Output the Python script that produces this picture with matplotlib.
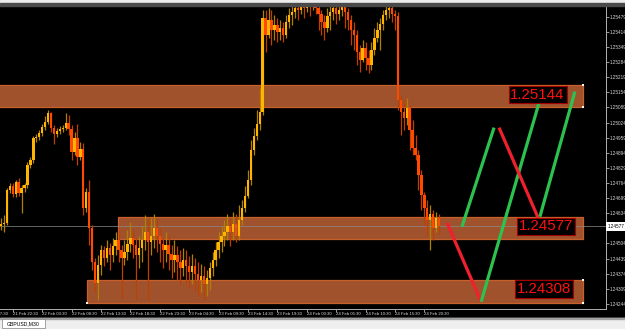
import matplotlib
matplotlib.use("Agg")
import matplotlib.pyplot as plt
from matplotlib.patches import Rectangle
import numpy as np

plt.rcParams['font.family'] = ['Liberation Sans', 'DejaVu Sans']

# GBPUSD M30 candles, first bar = 21 Feb 20:30
first_open = 1.24579
closes = [1.24588, 1.24592, 1.24734, 1.24751, 1.24717, 1.24768, 1.24721, 1.24743, 1.24756, 1.24842,
          1.24863, 1.24958, 1.24962, 1.24979, 1.25005, 1.25026, 1.25065, 1.25001, 1.24975, 1.24988,
          1.24996, 1.25001, 1.25022, 1.24996, 1.24897, 1.24958, 1.24876, 1.24910, 1.24657, 1.24725,
          1.24571, 1.24424, 1.24334, 1.24412, 1.24476, 1.24442, 1.24485, 1.24455, 1.24493, 1.24519,
          1.24476, 1.24442, 1.24467, 1.24502, 1.24528, 1.24498, 1.24455, 1.24485, 1.24519, 1.24553,
          1.24510, 1.24536, 1.24571, 1.24536, 1.24502, 1.24476, 1.24498, 1.24459, 1.24433, 1.24455,
          1.24424, 1.24399, 1.24433, 1.24407, 1.24381, 1.24407, 1.24373, 1.24347, 1.24364, 1.24330,
          1.24356, 1.24399, 1.24433, 1.24476, 1.24510, 1.24536, 1.24553, 1.24579, 1.24553, 1.24588,
          1.24536, 1.24605, 1.24657, 1.24708, 1.24777, 1.24906, 1.24966, 1.25018, 1.25069, 1.25474,
          1.25400, 1.25465, 1.25422, 1.25444, 1.25413, 1.25431, 1.25400, 1.25456, 1.25487, 1.25499,
          1.25517, 1.25508, 1.25525, 1.25517, 1.25534, 1.25525, 1.25530, 1.25517, 1.25491, 1.25456,
          1.25431, 1.25482, 1.25499, 1.25517, 1.25491, 1.25508, 1.25525, 1.25499, 1.25465, 1.25422,
          1.25400, 1.25327, 1.25293, 1.25345, 1.25302, 1.25272, 1.25336, 1.25388, 1.25422, 1.25448,
          1.25487, 1.25508, 1.25517, 1.25491, 1.25482, 1.25121, 1.25069, 1.25044, 1.25087, 1.24992,
          1.24915, 1.24884, 1.24799, 1.24713, 1.24657, 1.24605, 1.24631, 1.24571, 1.24614, 1.24577]
highs = [1.24614, 1.24627, 1.24743, 1.24764, 1.24764, 1.24777, 1.24786, 1.24756, 1.24764, 1.24854,
         1.24876, 1.24966, 1.24975, 1.24992, 1.25018, 1.25052, 1.25078, 1.25069, 1.25014, 1.25001,
         1.25009, 1.25014, 1.25065, 1.25057, 1.25014, 1.24983, 1.25018, 1.24940, 1.24936, 1.24743,
         1.24777, 1.24584, 1.24442, 1.24455, 1.24498, 1.24493, 1.24519, 1.24506, 1.24528, 1.24553,
         1.24571, 1.24498, 1.24519, 1.24562, 1.24596, 1.24562, 1.24528, 1.24536, 1.24579, 1.24627,
         1.24605, 1.24614, 1.24631, 1.24605, 1.24571, 1.24528, 1.24553, 1.24536, 1.24498, 1.24519,
         1.24493, 1.24476, 1.24485, 1.24476, 1.24450, 1.24459, 1.24442, 1.24424, 1.24416, 1.24407,
         1.24390, 1.24424, 1.24467, 1.24510, 1.24553, 1.24579, 1.24605, 1.24631, 1.24614, 1.24639,
         1.24631, 1.24670, 1.24691, 1.24751, 1.24820, 1.24949, 1.25001, 1.25078, 1.25173, 1.25508,
         1.25508, 1.25517, 1.25508, 1.25487, 1.25474, 1.25465, 1.25456, 1.25487, 1.25517, 1.25525,
         1.25525, 1.25534, 1.25542, 1.25551, 1.25551, 1.25560, 1.25570, 1.25555, 1.25534, 1.25508,
         1.25487, 1.25517, 1.25530, 1.25542, 1.25534, 1.25538, 1.25560, 1.25534, 1.25517, 1.25487,
         1.25456, 1.25422, 1.25358, 1.25379, 1.25370, 1.25336, 1.25370, 1.25431, 1.25456, 1.25474,
         1.25508, 1.25530, 1.25534, 1.25525, 1.25508, 1.25499, 1.25143, 1.25121, 1.25130, 1.25100,
         1.25035, 1.24970, 1.24906, 1.24820, 1.24725, 1.24691, 1.24670, 1.24648, 1.24639, 1.24631]
lows = [1.24562, 1.24553, 1.24584, 1.24721, 1.24704, 1.24704, 1.24708, 1.24635, 1.24725, 1.24743,
        1.24829, 1.24850, 1.24940, 1.24949, 1.24966, 1.24992, 1.25018, 1.24983, 1.24932, 1.24962,
        1.24975, 1.24983, 1.24992, 1.24970, 1.24863, 1.24884, 1.24842, 1.24863, 1.24627, 1.24639,
        1.24498, 1.24390, 1.24295, 1.24261, 1.24369, 1.24407, 1.24424, 1.24390, 1.24424, 1.24455,
        1.24424, 1.24270, 1.24412, 1.24433, 1.24467, 1.24442, 1.24261, 1.24399, 1.24424, 1.24476,
        1.24261, 1.24455, 1.24485, 1.24467, 1.24424, 1.24399, 1.24424, 1.24390, 1.24356, 1.24381,
        1.24347, 1.24330, 1.24364, 1.24338, 1.24313, 1.24330, 1.24304, 1.24278, 1.24295, 1.24261,
        1.24278, 1.24304, 1.24364, 1.24407, 1.24442, 1.24467, 1.24493, 1.24519, 1.24493, 1.24519,
        1.24510, 1.24519, 1.24584, 1.24639, 1.24700, 1.24756, 1.24884, 1.24949, 1.24992, 1.25056,
        1.25327, 1.25388, 1.25358, 1.25379, 1.25370, 1.25379, 1.25370, 1.25388, 1.25431, 1.25444,
        1.25474, 1.25465, 1.25491, 1.25474, 1.25499, 1.25482, 1.25508, 1.25491, 1.25422, 1.25400,
        1.25379, 1.25413, 1.25422, 1.25465, 1.25448, 1.25465, 1.25482, 1.25431, 1.25422, 1.25358,
        1.25336, 1.25272, 1.25241, 1.25284, 1.25250, 1.25237, 1.25250, 1.25315, 1.25370, 1.25336,
        1.25422, 1.25465, 1.25474, 1.25456, 1.25422, 1.25078, 1.24970, 1.24992, 1.25014, 1.24906,
        1.24884, 1.24863, 1.24734, 1.24648, 1.24584, 1.24541, 1.24476, 1.24519, 1.24553, 1.24545]

current_price = 1.24577

time_tick_bars = [4, 14, 24, 34, 44, 54, 64, 74, 84, 94, 104, 114, 124, 134, 144]
time_tick_labels = ["21 Feb 22:30", "22 Feb 03:30", "22 Feb 08:30", "22 Feb 13:30", "22 Feb 18:30",
                    "22 Feb 23:30", "23 Feb 04:30", "23 Feb 09:30", "23 Feb 14:30", "23 Feb 19:30",
                    "24 Feb 00:30", "24 Feb 05:30", "24 Feb 10:30", "24 Feb 15:30", "24 Feb 20:30"]
cut_label_bar = -6
cut_label = "21 Feb 17:30"

price_ticks = [1.24244, 1.24309, 1.24374, 1.24439, 1.24504, 1.24634, 1.24699, 1.24764, 1.24829,
               1.24894, 1.24959, 1.25024, 1.25089, 1.25154, 1.25219, 1.25284, 1.25349, 1.25414, 1.25479]

# supply / demand zones
zone_low = [1.25091, 1.24523, 1.24248]
zone_high = [1.25186, 1.24618, 1.24347]
zone_start = [-5, 39.8, 29.3]
zone_end = 197.8

level_prices = [1.25144, 1.24577, 1.24308]
level_label_x = [182.5, 185.4, 184.7]

# projected swing segments (bar, price)
seg_x0 = [151.7, 163.3, 156.8, 169.4, 183.3]
seg_p0 = [1.24593, 1.24253, 1.24576, 1.25002, 1.24619]
seg_x1 = [163.3, 183.7, 167.7, 182.7, 195.2]
seg_p1 = [1.24253, 1.25139, 1.25002, 1.24614, 1.25157]

W, H = 625, 329
fig = plt.figure(figsize=(W / 100, H / 100), dpi=100, facecolor='black')
ax = fig.add_axes([0, 20 / H, 606 / W, 303 / H], facecolor='black')

ax.set_xlim(-0.34, 205.78)
ax.set_ylim(1.24222, 1.25525)

# zones
for lo_, hi_, st in zip(zone_low, zone_high, zone_start):
    ax.add_patch(Rectangle((st, lo_), zone_end - st, hi_ - lo_, facecolor='#a0522d',
                           edgecolor='#c9602c', lw=0.9, zorder=1))
dots_x = [zone_end, zone_end, zone_end, zone_end, zone_start[2]]
dots_p = [zone_high[0], zone_low[0], zone_high[2], zone_low[2], zone_low[2]]
ax.scatter(dots_x, dots_p, s=2, marker='s', color='white', zorder=6, linewidths=0)

ax.axhline(current_price, color='#8a8a8a', lw=0.5, zorder=1.5)

# candles
c = np.array(closes)
o = np.array([first_open] + closes[:-1])
hi = np.maximum(np.array(highs), np.maximum(o, c))
lo = np.minimum(np.array(lows), np.minimum(o, c))
idx = np.arange(len(c))
up = c >= o
dn = ~up
ax.vlines(idx[up], lo[up], hi[up], color='#b08000', lw=0.9, zorder=3)
ax.vlines(idx[dn], lo[dn], hi[dn], color='#c04000', lw=0.9, zorder=3)
body = np.maximum(np.abs(c - o), 0.00002)
bottom = np.minimum(o, c)
ax.bar(idx[up], body[up], bottom=bottom[up], width=0.8, color='#ffb400', lw=0, zorder=3.5)
ax.bar(idx[dn], body[dn], bottom=bottom[dn], width=0.8, color='#ff4a00', lw=0, zorder=3.5)

# projection lines
for x0, p0, x1, p1 in zip(seg_x0, seg_p0, seg_x1, seg_p1):
    col = '#2cc24f' if p1 > p0 else '#f0202c'
    ax.plot([x0, x1], [p0, p1], color=col, lw=2.3, solid_capstyle='butt', zorder=4)

# level labels
for p, x in zip(level_prices, level_label_x):
    ax.text(x, p, f"{p:.5f}", color='#ff1010', fontsize=10.8, ha='center', va='center',
            zorder=5,
            bbox=dict(boxstyle='square,pad=0.12', facecolor='black', edgecolor='#a00000', lw=0.8))

# axes styling
for s in ['top', 'left']:
    ax.spines[s].set_visible(False)
for s in ['right', 'bottom']:
    ax.spines[s].set_color('#b0b0b0')
    ax.spines[s].set_linewidth(0.7)

ax.yaxis.tick_right()
ax.set_yticks(price_ticks)
ax.set_yticklabels([f"{p:.5f}" for p in price_ticks])
ax.tick_params(axis='y', colors='#d8d8d8', labelsize=3.3, length=2, width=0.5, pad=0.5)

ax.set_xticks(time_tick_bars)
ax.set_xticklabels(time_tick_labels)
ax.tick_params(axis='x', colors='#d8d8d8', labelsize=3.1, length=2, width=0.5, pad=0.3)
for lbl in ax.get_xticklabels():
    lbl.set_ha('left')
ax.annotate(cut_label, xy=(cut_label_bar, 0), xycoords=('data', 'axes fraction'),
            xytext=(0, -2.3), textcoords='offset points', va='top', ha='left',
            fontsize=3.1, color='#d8d8d8', annotation_clip=False)

ax.annotate(f"{current_price:.5f}", xy=(1, current_price), xycoords=('axes fraction', 'data'),
            xytext=(1.2, 0), textcoords='offset points', va='center', ha='left', fontsize=3.3,
            color='black', annotation_clip=False,
            bbox=dict(boxstyle='square,pad=0.35', facecolor='white', edgecolor='white', lw=0))

# window chrome
fig.add_artist(Rectangle((0, 1 - 3 / H), 1, 3 / H, transform=fig.transFigure, color='#ececec'))
fig.add_artist(Rectangle((0, 1 - 6 / H), 1, 3 / H, transform=fig.transFigure, color='#4a4a4a'))
fig.add_artist(Rectangle((0, 0), 1, 11 / H, transform=fig.transFigure, color='#efefef'))
fig.add_artist(Rectangle((0, 10.5 / H), 1, 0.8 / H, transform=fig.transFigure, color='#a0a0a0'))
fig.add_artist(Rectangle((2 / W, 1 / H), 43 / W, 9 / H, transform=fig.transFigure,
                         facecolor='white', edgecolor='#808080', lw=0.5))
fig.text(23.5 / W, 5.5 / H, "GBPUSD,M30", fontsize=3.7, color='black', ha='center', va='center')

fig.savefig("out.png", dpi=100, facecolor='black')
